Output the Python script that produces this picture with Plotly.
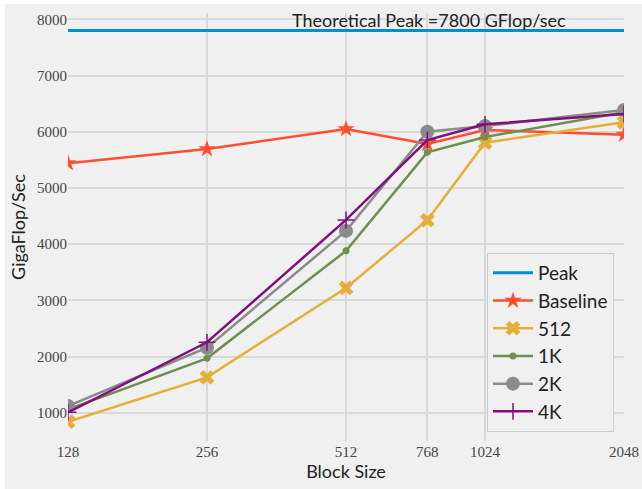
import numpy as np
import plotly.graph_objects as go

block_sizes = [128, 256, 512, 768, 1024, 2048]
tick_labels = ["128", "256", "512", "768", "1024", "2048"]
peak = [7800, 7800, 7800, 7800, 7800, 7800]
baseline = [5440, 5692, 6048, 5781, 6030, 5947]
s512 = [840, 1630, 3220, 4425, 5804, 6167]
s1k = [1060, 1968, 3880, 5633, 5906, 6345]
s2k = [1119, 2157, 4235, 6000, 6101, 6386]
s4k = [1007, 2253, 4430, 5852, 6132, 6315]
y_ticks = [1000, 2000, 3000, 4000, 5000, 6000, 7000, 8000]
annotation_text = "Theoretical Peak =7800 GFlop/sec"

BG = "#f0f0f0"
W, H = 642, 489
L, R, T, B = 68, 18, 13, 48

fig = go.Figure()

series = [
    ("Peak", peak, "#008fd5", None, 0, 3),
    ("Baseline", baseline, "#fc4f30", "star", 13, 2.5),
    ("512", s512, "#e5ae38", "x", 13, 2.5),
    ("1K", s1k, "#6d904f", "circle", 7, 2.5),
    ("2K", s2k, "#8b8b8b", "circle", 14, 2.5),
    ("4K", s4k, "#810f7c", "cross-thin", 12, 2.5),
]
for name, ys, color, sym, size, lw in series:
    if sym is None:
        fig.add_trace(go.Scatter(x=block_sizes, y=ys, name=name, mode="lines",
                                 line=dict(color=color, width=lw)))
    else:
        mk = dict(symbol=sym, size=size, color=color,
                  line=dict(color=color, width=1.5 if sym == "cross-thin" else 0))
        fig.add_trace(go.Scatter(x=block_sizes, y=ys, name=name, mode="lines+markers",
                                 line=dict(color=color, width=lw), marker=mk))

fig.add_annotation(x=np.log10(774), y=7800, xref="x", yref="y", text=annotation_text,
                   showarrow=False, yanchor="bottom", yshift=-2,
                   font=dict(family="Lato", size=18, color="#222222"))

# white strips at left/top edges of the image
fig.add_shape(type="rect", xref="paper", yref="paper", layer="above",
              x0=-L / 556 - 0.01, x1=(5 - L) / 556, y0=-2, y1=2,
              fillcolor="white", line=dict(width=0))
fig.add_shape(type="rect", xref="paper", yref="paper", layer="above",
              x0=-1, x1=2, y0=1 + (T - 4) / 428, y1=1.2,
              fillcolor="white", line=dict(width=0))

fig.update_layout(
    width=W, height=H,
    margin=dict(l=L, r=R, t=T, b=B, autoexpand=False),
    paper_bgcolor=BG, plot_bgcolor=BG,
    font=dict(family="Lato", color="#222222"),
    showlegend=True,
    legend=dict(x=0.982, y=0.021, xanchor="right", yanchor="bottom",
                bgcolor=BG, bordercolor="#cccccc", borderwidth=1,
                font=dict(family="Lato", size=19, color="#222222"),
                itemwidth=40, tracegroupgap=0),
    xaxis=dict(type="log", range=[np.log10(128), np.log10(2048)],
               tickvals=block_sizes, ticktext=tick_labels, automargin=False,
               showgrid=True, gridcolor="#d9d9d9", gridwidth=2,
               zeroline=False, showline=False, ticks="",
               tickfont=dict(family="Liberation Serif", size=15, color="#444444"),
               title=dict(text="Block Size", font=dict(family="Lato", size=18, color="#222222"),
                          standoff=2)),
    yaxis=dict(range=[497, 8112], tickvals=y_ticks, automargin=False,
               showgrid=True, gridcolor="#d9d9d9", gridwidth=2,
               zeroline=False, showline=False, ticks="",
               tickfont=dict(family="Liberation Serif", size=15, color="#444444"),
               title=dict(text="GigaFlop/Sec", font=dict(family="Lato", size=18, color="#222222"),
                          standoff=6)),
)

fig.write_html("out.html", config={"displayModeBar": False},
               post_script="document.body.style.margin='0px';document.body.style.padding='0px';")
